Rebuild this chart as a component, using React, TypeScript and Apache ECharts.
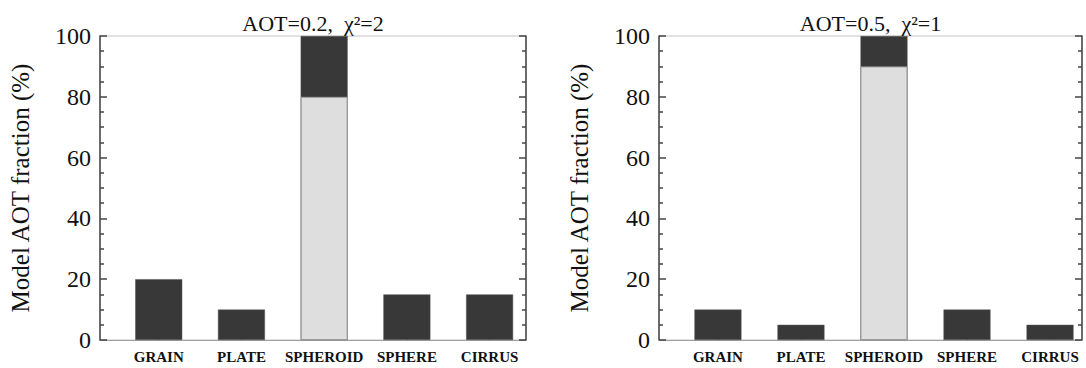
import React, { useEffect, useRef } from "react";
import * as echarts from "echarts";

const categories = ["GRAIN", "PLATE", "SPHEROID", "SPHERE", "CIRRUS"];
const yTicks = [0, 20, 40, 60, 80, 100];

// panel 1: AOT=0.2, chi^2=2
const title1 = "AOT=0.2,  χ²=2";
const light1 = [0, 0, 80, 0, 0];
const dark1 = [20, 10, 20, 15, 15];

// panel 2: AOT=0.5, chi^2=1
const title2 = "AOT=0.5,  χ²=1";
const light2 = [0, 0, 90, 0, 0];
const dark2 = [10, 5, 10, 10, 5];

const DARK = "#383838";
const LIGHT = "#dedede";
const SERIF = "Liberation Serif";

export default function App() {
  const ref = useRef<HTMLDivElement>(null);
  useEffect(() => {
    document.body.style.margin = "0";
    const chart = echarts.init(ref.current!, null, { renderer: "svg" });

    const grids = [
      { left: 100, top: 36, width: 426, height: 304, min: -0.71, max: 4.44 },
      { left: 659, top: 36, width: 423, height: 304, min: -0.71, max: 4.385 },
    ];

    const xAxis = grids.map((g, i) => ({
      type: "value",
      gridIndex: i,
      min: g.min,
      max: g.max,
      axisLine: { show: true, onZero: false, lineStyle: { color: "#a0a0a0", width: 1 } },
      axisTick: {
        show: true,
        inside: true,
        length: 6,
        customValues: [0, 1, 2, 3, 4],
        lineStyle: { color: "#8a8a8a" },
      },
      axisLabel: {
        show: true,
        customValues: [0, 1, 2, 3, 4],
        formatter: (v: number) => categories[Math.round(v)] ?? "",
        fontFamily: SERIF,
        fontWeight: "bold",
        fontSize: 15,
        color: "#111",
        margin: 9,
      },
      splitLine: { show: false },
    }));

    const yBase = (i: number, pos: "left" | "right") => ({
      type: "value",
      gridIndex: i,
      position: pos,
      min: yTicks[0],
      max: yTicks[yTicks.length - 1],
      interval: 20,
      axisLine: { show: true, onZero: false, lineStyle: { color: "#444", width: 1.5 } },
      axisTick: { show: true, inside: true, length: 7, lineStyle: { color: "#444", width: 1.5 } },
      minorTick: { show: true, splitNumber: 4, length: 4, lineStyle: { color: "#444", width: 1.5 } },
      splitLine: { show: false },
      minorSplitLine: { show: false },
      axisLabel: {
        show: pos === "left",
        fontFamily: SERIF,
        fontSize: 24,
        color: "#111",
        margin: 9,
      },
      name: pos === "left" ? "Model AOT fraction (%)" : "",
      nameLocation: "middle",
      nameGap: 67,
      nameTextStyle: { fontFamily: SERIF, fontSize: 25, color: "#111" },
    });

    const yAxis = [yBase(0, "left"), yBase(0, "right"), yBase(1, "left"), yBase(1, "right")];

    const series: any[] = [];
    [[light1, dark1], [light2, dark2]].forEach(([lt, dk], i) => {
      // dark part sits on top of the light part: draw the full column dark, then the light base over it
      series.push({
        type: "bar",
        name: "dark",
        xAxisIndex: i,
        yAxisIndex: i * 2,
        barWidth: 47,
        barGap: "-100%",
        itemStyle: { color: DARK, borderColor: "#555", borderWidth: 0.5 },
        data: dk.map((v, k) => [k, v + lt[k]]),
        z: 1,
      });
      series.push({
        type: "bar",
        name: "light",
        xAxisIndex: i,
        yAxisIndex: i * 2,
        barWidth: 47,
        barGap: "-100%",
        data: lt.map((v, k) => ({
          value: [k, v],
          itemStyle: {
            color: v > 0 ? LIGHT : "transparent",
            borderColor: v > 0 ? "#9a9a9a" : "transparent",
            borderWidth: v > 0 ? 1 : 0,
          },
        })),
        z: 2,
      });
    });

    const titleStyle = (text: string) => ({
      text,
      fontSize: 22,
      fontFamily: SERIF,
      fill: "#111",
      textAlign: "center",
      textVerticalAlign: "bottom",
    });

    chart.setOption({
      animation: false,
      backgroundColor: "#fff",
      grid: grids.map((g) => ({
        left: g.left,
        top: g.top,
        width: g.width,
        height: g.height,
        show: true,
        borderColor: "#c4c4c4",
        borderWidth: 1,
        backgroundColor: "transparent",
      })),
      xAxis,
      yAxis,
      series,
      graphic: [
        { type: "text", x: grids[0].left + grids[0].width / 2, y: 34, style: titleStyle(title1) },
        { type: "text", x: grids[1].left + grids[1].width / 2, y: 34, style: titleStyle(title2) },
      ],
    });
    return () => chart.dispose();
  }, []);
  return <div ref={ref} style={{ width: 1086, height: 368 }} />;
}
